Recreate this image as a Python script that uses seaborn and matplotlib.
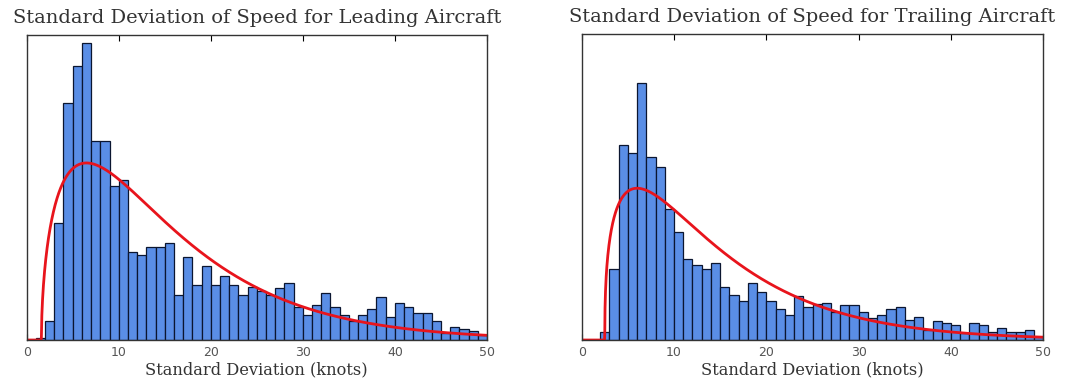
import math
import numpy as np
import pandas as pd
import matplotlib
matplotlib.use("Agg")
import matplotlib.pyplot as plt
import seaborn as sns

# ---- data ----
bin_edges = list(range(0, 51))  # 1-knot bins, 0..50

leading_counts = [0, 2, 19, 117, 237, 274, 297, 199, 199, 154,
                  160, 88, 85, 93, 93, 97, 45, 83, 55, 74,
                  55, 64, 55, 45, 53, 49, 45, 52, 57, 33,
                  25, 35, 47, 33, 25, 19, 25, 31, 43, 23,
                  37, 33, 27, 27, 19, 7, 13, 11, 9, 5]

trailing_counts = [0, 0, 8, 71, 194, 186, 256, 182, 172, 131,
                   108, 81, 75, 71, 77, 53, 45, 39, 57, 48,
                   39, 31, 25, 44, 33, 36, 37, 28, 35, 35,
                   28, 22, 25, 31, 33, 20, 23, 10, 19, 17,
                   15, 7, 17, 15, 8, 12, 8, 8, 10, 3]

# fitted (shifted gamma) curve parameters: shape, location, scale
leading_fit = (1.55, 1.6, 8.9)
trailing_fit = (1.40, 2.5, 8.75)

titles = ["Standard Deviation of Speed for Leading Aircraft",
          "Standard Deviation of Speed for Trailing Aircraft"]
xlabel = "Standard Deviation (knots)"
xticks = [0, 10, 20, 30, 40, 50]


def gamma_pdf(x, shape, loc, scale):
    y = np.clip(x - loc, 0, None)
    out = np.zeros_like(x)
    m = y > 0
    out[m] = y[m] ** (shape - 1) * np.exp(-y[m] / scale) / (math.gamma(shape) * scale ** shape)
    return out


sns.set_style("white")
serif = ["DejaVu Serif"]

fig = plt.figure(figsize=(10.66, 3.87), dpi=100)
ax_l = fig.add_axes([0.0250, 0.1214, 0.4318, 0.7881])
ax_r = fig.add_axes([0.5457, 0.1214, 0.4330, 0.7907])

edges = [float(e) for e in bin_edges]
centers = [(a + b) / 2 for a, b in zip(edges[:-1], edges[1:])]

for ax, counts, fit, title in [(ax_l, leading_counts, leading_fit, titles[0]),
                               (ax_r, trailing_counts, trailing_fit, titles[1])]:
    df = pd.DataFrame({"sd": centers, "n": counts})
    sns.histplot(data=df, x="sd", weights="n", bins=edges, ax=ax,
                 color="#5a8ee6", edgecolor="#0b1630", linewidth=0.9, alpha=1.0)
    xs = np.linspace(0, 50, 2000)
    total = float(np.sum(counts))
    curve = pd.DataFrame({"x": xs, "y": total * gamma_pdf(xs, *fit)})
    sns.lineplot(data=curve, x="x", y="y", ax=ax, color="#e8141c", linewidth=2.0)

    ax.set_xlim(0, 50)
    ax.set_ylim(0, 305)
    ax.set_yticks([])
    ax.set_xticks(xticks)
    ax.set_xticklabels([str(t) for t in xticks], fontsize=9, color="#555555",
                       family=["DejaVu Sans"])
    ax.tick_params(axis="x", which="both", direction="in", top=True, bottom=True,
                   length=4, width=0.8, color="black", pad=4)
    ax.set_ylabel("")
    ax.set_xlabel(xlabel, fontsize=11.7, family=serif, color="#333333", labelpad=2)
    ax.set_title(title, fontsize=14, family=serif, color="#333333", pad=9)
    for s in ax.spines.values():
        s.set_visible(True)
        s.set_color("#333333")
        s.set_linewidth(1.0)

fig.savefig("out.png", dpi=100)
